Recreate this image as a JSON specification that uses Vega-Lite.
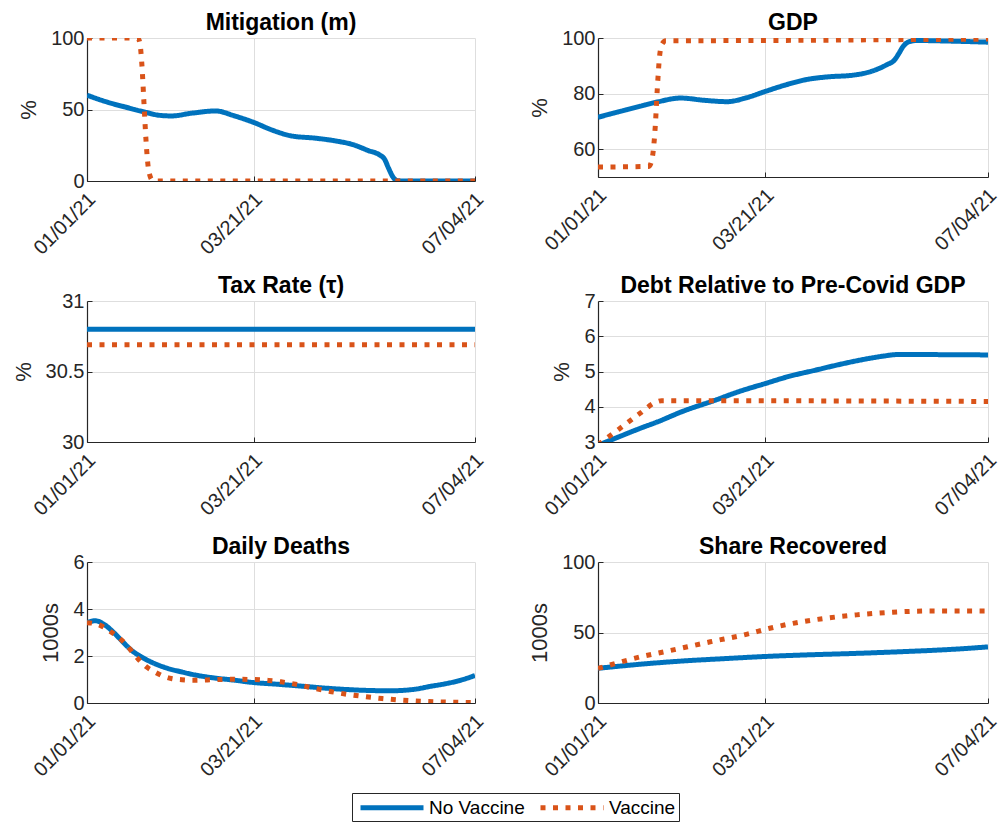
{
  "$schema": "https://vega.github.io/schema/vega-lite/v6.json",
  "padding": {"left": 12, "top": 12, "right": 5, "bottom": 2},
  "background": "white",
  "datasets": {
    "d": [
      {"p":"m","s":"No Vaccine","d":"2021-01-01","v":60},
      {"p":"m","s":"No Vaccine","d":"2021-01-11","v":55},
      {"p":"m","s":"No Vaccine","d":"2021-01-21","v":51},
      {"p":"m","s":"No Vaccine","d":"2021-01-29","v":48},
      {"p":"m","s":"No Vaccine","d":"2021-02-04","v":46},
      {"p":"m","s":"No Vaccine","d":"2021-02-10","v":45.5},
      {"p":"m","s":"No Vaccine","d":"2021-02-20","v":47.5},
      {"p":"m","s":"No Vaccine","d":"2021-03-03","v":49},
      {"p":"m","s":"No Vaccine","d":"2021-03-12","v":45.5},
      {"p":"m","s":"No Vaccine","d":"2021-03-21","v":41},
      {"p":"m","s":"No Vaccine","d":"2021-03-30","v":35.5},
      {"p":"m","s":"No Vaccine","d":"2021-04-08","v":31.5},
      {"p":"m","s":"No Vaccine","d":"2021-04-19","v":30},
      {"p":"m","s":"No Vaccine","d":"2021-04-29","v":28},
      {"p":"m","s":"No Vaccine","d":"2021-05-07","v":25.5},
      {"p":"m","s":"No Vaccine","d":"2021-05-14","v":21.5},
      {"p":"m","s":"No Vaccine","d":"2021-05-20","v":18},
      {"p":"m","s":"No Vaccine","d":"2021-05-22","v":15.5},
      {"p":"m","s":"No Vaccine","d":"2021-05-24","v":9},
      {"p":"m","s":"No Vaccine","d":"2021-05-26","v":3},
      {"p":"m","s":"No Vaccine","d":"2021-05-28","v":0.3},
      {"p":"m","s":"No Vaccine","d":"2021-05-31","v":0},
      {"p":"m","s":"No Vaccine","d":"2021-07-04","v":0},
      {"p":"m","s":"Vaccine","d":"2021-01-01","v":100},
      {"p":"m","s":"Vaccine","d":"2021-01-25","v":100},
      {"p":"m","s":"Vaccine","d":"2021-01-26","v":97},
      {"p":"m","s":"Vaccine","d":"2021-01-27","v":82},
      {"p":"m","s":"Vaccine","d":"2021-01-28","v":55},
      {"p":"m","s":"Vaccine","d":"2021-01-29","v":28},
      {"p":"m","s":"Vaccine","d":"2021-01-30","v":10},
      {"p":"m","s":"Vaccine","d":"2021-01-31","v":3},
      {"p":"m","s":"Vaccine","d":"2021-02-01","v":0.7},
      {"p":"m","s":"Vaccine","d":"2021-02-03","v":0},
      {"p":"m","s":"Vaccine","d":"2021-07-04","v":0},

      {"p":"g","s":"No Vaccine","d":"2021-01-01","v":71.5},
      {"p":"g","s":"No Vaccine","d":"2021-01-11","v":73.5},
      {"p":"g","s":"No Vaccine","d":"2021-01-21","v":75.5},
      {"p":"g","s":"No Vaccine","d":"2021-01-29","v":77},
      {"p":"g","s":"No Vaccine","d":"2021-02-09","v":78.4},
      {"p":"g","s":"No Vaccine","d":"2021-02-20","v":77.6},
      {"p":"g","s":"No Vaccine","d":"2021-03-03","v":77.1},
      {"p":"g","s":"No Vaccine","d":"2021-03-12","v":78.5},
      {"p":"g","s":"No Vaccine","d":"2021-03-21","v":80.8},
      {"p":"g","s":"No Vaccine","d":"2021-03-30","v":83},
      {"p":"g","s":"No Vaccine","d":"2021-04-09","v":85},
      {"p":"g","s":"No Vaccine","d":"2021-04-19","v":86},
      {"p":"g","s":"No Vaccine","d":"2021-05-01","v":86.6},
      {"p":"g","s":"No Vaccine","d":"2021-05-10","v":88},
      {"p":"g","s":"No Vaccine","d":"2021-05-17","v":90.3},
      {"p":"g","s":"No Vaccine","d":"2021-05-21","v":92.2},
      {"p":"g","s":"No Vaccine","d":"2021-05-23","v":94.5},
      {"p":"g","s":"No Vaccine","d":"2021-05-25","v":97},
      {"p":"g","s":"No Vaccine","d":"2021-05-27","v":98.4},
      {"p":"g","s":"No Vaccine","d":"2021-05-29","v":98.9},
      {"p":"g","s":"No Vaccine","d":"2021-05-31","v":99.1},
      {"p":"g","s":"No Vaccine","d":"2021-06-15","v":98.9},
      {"p":"g","s":"No Vaccine","d":"2021-07-04","v":98.5},
      {"p":"g","s":"Vaccine","d":"2021-01-01","v":53.6},
      {"p":"g","s":"Vaccine","d":"2021-01-25","v":53.8},
      {"p":"g","s":"Vaccine","d":"2021-01-26","v":55},
      {"p":"g","s":"Vaccine","d":"2021-01-27","v":59},
      {"p":"g","s":"Vaccine","d":"2021-01-28","v":68},
      {"p":"g","s":"Vaccine","d":"2021-01-29","v":82},
      {"p":"g","s":"Vaccine","d":"2021-01-30","v":93},
      {"p":"g","s":"Vaccine","d":"2021-01-31","v":97.5},
      {"p":"g","s":"Vaccine","d":"2021-02-02","v":99},
      {"p":"g","s":"Vaccine","d":"2021-03-21","v":99.1},
      {"p":"g","s":"Vaccine","d":"2021-05-21","v":99.4},
      {"p":"g","s":"Vaccine","d":"2021-07-04","v":99.6},

      {"p":"t","s":"No Vaccine","d":"2021-01-01","v":30.8},
      {"p":"t","s":"No Vaccine","d":"2021-07-04","v":30.8},
      {"p":"t","s":"Vaccine","d":"2021-01-01","v":30.69},
      {"p":"t","s":"Vaccine","d":"2021-07-04","v":30.69},

      {"p":"b","s":"No Vaccine","d":"2021-01-01","v":2.91},
      {"p":"b","s":"No Vaccine","d":"2021-01-11","v":3.15},
      {"p":"b","s":"No Vaccine","d":"2021-01-21","v":3.39},
      {"p":"b","s":"No Vaccine","d":"2021-01-29","v":3.57},
      {"p":"b","s":"No Vaccine","d":"2021-02-10","v":3.87},
      {"p":"b","s":"No Vaccine","d":"2021-02-25","v":4.18},
      {"p":"b","s":"No Vaccine","d":"2021-03-09","v":4.44},
      {"p":"b","s":"No Vaccine","d":"2021-03-21","v":4.66},
      {"p":"b","s":"No Vaccine","d":"2021-04-01","v":4.86},
      {"p":"b","s":"No Vaccine","d":"2021-04-13","v":5.03},
      {"p":"b","s":"No Vaccine","d":"2021-04-25","v":5.2},
      {"p":"b","s":"No Vaccine","d":"2021-05-07","v":5.35},
      {"p":"b","s":"No Vaccine","d":"2021-05-16","v":5.44},
      {"p":"b","s":"No Vaccine","d":"2021-05-22","v":5.48},
      {"p":"b","s":"No Vaccine","d":"2021-05-31","v":5.48},
      {"p":"b","s":"No Vaccine","d":"2021-07-04","v":5.47},
      {"p":"b","s":"Vaccine","d":"2021-01-01","v":2.92},
      {"p":"b","s":"Vaccine","d":"2021-01-11","v":3.37},
      {"p":"b","s":"Vaccine","d":"2021-01-21","v":3.82},
      {"p":"b","s":"Vaccine","d":"2021-01-28","v":4.12},
      {"p":"b","s":"Vaccine","d":"2021-01-31","v":4.17},
      {"p":"b","s":"Vaccine","d":"2021-03-02","v":4.17},
      {"p":"b","s":"Vaccine","d":"2021-07-04","v":4.15},

      {"p":"x","s":"No Vaccine","d":"2021-01-01","v":3.42},
      {"p":"x","s":"No Vaccine","d":"2021-01-05","v":3.5},
      {"p":"x","s":"No Vaccine","d":"2021-01-09","v":3.35},
      {"p":"x","s":"No Vaccine","d":"2021-01-14","v":2.97},
      {"p":"x","s":"No Vaccine","d":"2021-01-18","v":2.6},
      {"p":"x","s":"No Vaccine","d":"2021-01-22","v":2.25},
      {"p":"x","s":"No Vaccine","d":"2021-01-27","v":1.95},
      {"p":"x","s":"No Vaccine","d":"2021-02-02","v":1.68},
      {"p":"x","s":"No Vaccine","d":"2021-02-08","v":1.48},
      {"p":"x","s":"No Vaccine","d":"2021-02-15","v":1.32},
      {"p":"x","s":"No Vaccine","d":"2021-02-22","v":1.18},
      {"p":"x","s":"No Vaccine","d":"2021-03-02","v":1.07},
      {"p":"x","s":"No Vaccine","d":"2021-03-12","v":0.97},
      {"p":"x","s":"No Vaccine","d":"2021-03-21","v":0.87},
      {"p":"x","s":"No Vaccine","d":"2021-04-01","v":0.8},
      {"p":"x","s":"No Vaccine","d":"2021-04-11","v":0.73},
      {"p":"x","s":"No Vaccine","d":"2021-04-23","v":0.64},
      {"p":"x","s":"No Vaccine","d":"2021-05-05","v":0.57},
      {"p":"x","s":"No Vaccine","d":"2021-05-16","v":0.53},
      {"p":"x","s":"No Vaccine","d":"2021-05-25","v":0.52},
      {"p":"x","s":"No Vaccine","d":"2021-06-05","v":0.58},
      {"p":"x","s":"No Vaccine","d":"2021-06-13","v":0.71},
      {"p":"x","s":"No Vaccine","d":"2021-06-20","v":0.82},
      {"p":"x","s":"No Vaccine","d":"2021-06-26","v":0.94},
      {"p":"x","s":"No Vaccine","d":"2021-07-04","v":1.17},
      {"p":"x","s":"Vaccine","d":"2021-01-01","v":3.42},
      {"p":"x","s":"Vaccine","d":"2021-01-06","v":3.35},
      {"p":"x","s":"Vaccine","d":"2021-01-12","v":3.05},
      {"p":"x","s":"Vaccine","d":"2021-01-19","v":2.54},
      {"p":"x","s":"Vaccine","d":"2021-01-25","v":1.9},
      {"p":"x","s":"Vaccine","d":"2021-01-29","v":1.55},
      {"p":"x","s":"Vaccine","d":"2021-02-02","v":1.33},
      {"p":"x","s":"Vaccine","d":"2021-02-06","v":1.15},
      {"p":"x","s":"Vaccine","d":"2021-02-10","v":1.04},
      {"p":"x","s":"Vaccine","d":"2021-02-15","v":0.99},
      {"p":"x","s":"Vaccine","d":"2021-02-20","v":0.97},
      {"p":"x","s":"Vaccine","d":"2021-03-02","v":0.99},
      {"p":"x","s":"Vaccine","d":"2021-03-10","v":1.01},
      {"p":"x","s":"Vaccine","d":"2021-03-21","v":1.0},
      {"p":"x","s":"Vaccine","d":"2021-03-28","v":0.96},
      {"p":"x","s":"Vaccine","d":"2021-04-03","v":0.9},
      {"p":"x","s":"Vaccine","d":"2021-04-11","v":0.78},
      {"p":"x","s":"Vaccine","d":"2021-04-19","v":0.62},
      {"p":"x","s":"Vaccine","d":"2021-04-27","v":0.48},
      {"p":"x","s":"Vaccine","d":"2021-05-05","v":0.36},
      {"p":"x","s":"Vaccine","d":"2021-05-13","v":0.27},
      {"p":"x","s":"Vaccine","d":"2021-05-21","v":0.19},
      {"p":"x","s":"Vaccine","d":"2021-05-29","v":0.13},
      {"p":"x","s":"Vaccine","d":"2021-06-05","v":0.09},
      {"p":"x","s":"Vaccine","d":"2021-06-15","v":0.05},
      {"p":"x","s":"Vaccine","d":"2021-06-25","v":0.03},
      {"p":"x","s":"Vaccine","d":"2021-07-04","v":0.02},

      {"p":"r","s":"No Vaccine","d":"2021-01-01","v":24.6},
      {"p":"r","s":"No Vaccine","d":"2021-01-21","v":27.5},
      {"p":"r","s":"No Vaccine","d":"2021-02-10","v":29.8},
      {"p":"r","s":"No Vaccine","d":"2021-03-02","v":31.5},
      {"p":"r","s":"No Vaccine","d":"2021-03-21","v":33},
      {"p":"r","s":"No Vaccine","d":"2021-04-11","v":34.2},
      {"p":"r","s":"No Vaccine","d":"2021-05-01","v":35.1},
      {"p":"r","s":"No Vaccine","d":"2021-05-21","v":36.2},
      {"p":"r","s":"No Vaccine","d":"2021-06-10","v":37.5},
      {"p":"r","s":"No Vaccine","d":"2021-06-25","v":38.8},
      {"p":"r","s":"No Vaccine","d":"2021-07-04","v":39.8},
      {"p":"r","s":"Vaccine","d":"2021-01-01","v":24.5},
      {"p":"r","s":"Vaccine","d":"2021-01-11","v":28.8},
      {"p":"r","s":"Vaccine","d":"2021-01-19","v":32},
      {"p":"r","s":"Vaccine","d":"2021-02-05","v":37.5},
      {"p":"r","s":"Vaccine","d":"2021-02-23","v":43.4},
      {"p":"r","s":"Vaccine","d":"2021-03-12","v":48.7},
      {"p":"r","s":"Vaccine","d":"2021-03-23","v":53},
      {"p":"r","s":"Vaccine","d":"2021-04-03","v":56.5},
      {"p":"r","s":"Vaccine","d":"2021-04-16","v":59.6},
      {"p":"r","s":"Vaccine","d":"2021-05-03","v":62.5},
      {"p":"r","s":"Vaccine","d":"2021-05-20","v":64.4},
      {"p":"r","s":"Vaccine","d":"2021-06-08","v":65.3},
      {"p":"r","s":"Vaccine","d":"2021-07-04","v":65.3}
    ]
  },
  "data": {"name": "d"},
  "columns": 2,
  "spacing": {"row": 16, "column": 40},
  "concat": [
    {
      "title": "Mitigation (m)",
      "width": 388, "height": 143,
      "transform": [{"filter": "datum.p === 'm'"}],
      "mark": {"type": "line", "strokeWidth": 5, "interpolate": "monotone", "clip": true, "strokeCap": "butt"},
      "encoding": {
        "x": {"field": "d", "type": "temporal", "scale": {"type": "utc", "domain": [{"year": 2021, "month": 1, "date": 1, "utc": true}, {"year": 2021, "month": 7, "date": 4, "utc": true}]}, "axis": {"values": [{"year": 2021, "month": 1, "date": 1, "utc": true}, {"year": 2021, "month": 3, "date": 21, "utc": true}, {"year": 2021, "month": 7, "date": 4, "utc": true}], "format": "%m/%d/%y", "title": null}},
        "y": {"field": "v", "type": "quantitative", "scale": {"domain": [0, 100], "nice": false, "zero": false}, "axis": {"values": [0, 50, 100], "title": "%"}},
        "color": {"field": "s", "type": "nominal", "scale": {"domain": ["No Vaccine", "Vaccine"], "range": ["#0072BD", "#D95319"]}, "legend": {"title": null}},
        "strokeDash": {"field": "s", "type": "nominal", "scale": {"domain": ["No Vaccine", "Vaccine"], "range": [[1, 0], [5, 7.5]]}, "legend": {"title": null}}
      }
    },
    {
      "title": "GDP",
      "width": 390, "height": 139,
      "transform": [{"filter": "datum.p === 'g'"}],
      "mark": {"type": "line", "strokeWidth": 5, "interpolate": "monotone", "clip": true, "strokeCap": "butt"},
      "encoding": {
        "x": {"field": "d", "type": "temporal", "scale": {"type": "utc", "domain": [{"year": 2021, "month": 1, "date": 1, "utc": true}, {"year": 2021, "month": 7, "date": 4, "utc": true}]}, "axis": {"values": [{"year": 2021, "month": 1, "date": 1, "utc": true}, {"year": 2021, "month": 3, "date": 21, "utc": true}, {"year": 2021, "month": 7, "date": 4, "utc": true}], "format": "%m/%d/%y", "title": null}},
        "y": {"field": "v", "type": "quantitative", "scale": {"domain": [50, 100], "nice": false, "zero": false}, "axis": {"values": [60, 80, 100], "title": "%"}},
        "color": {"field": "s", "type": "nominal", "scale": {"domain": ["No Vaccine", "Vaccine"], "range": ["#0072BD", "#D95319"]}, "legend": {"title": null}},
        "strokeDash": {"field": "s", "type": "nominal", "scale": {"domain": ["No Vaccine", "Vaccine"], "range": [[1, 0], [5, 7.5]]}, "legend": {"title": null}}
      }
    },
    {
      "title": "Tax Rate (τ)",
      "width": 388, "height": 141,
      "transform": [{"filter": "datum.p === 't'"}],
      "mark": {"type": "line", "strokeWidth": 5, "interpolate": "monotone", "clip": true, "strokeCap": "butt"},
      "encoding": {
        "x": {"field": "d", "type": "temporal", "scale": {"type": "utc", "domain": [{"year": 2021, "month": 1, "date": 1, "utc": true}, {"year": 2021, "month": 7, "date": 4, "utc": true}]}, "axis": {"values": [{"year": 2021, "month": 1, "date": 1, "utc": true}, {"year": 2021, "month": 3, "date": 21, "utc": true}, {"year": 2021, "month": 7, "date": 4, "utc": true}], "format": "%m/%d/%y", "title": null}},
        "y": {"field": "v", "type": "quantitative", "scale": {"domain": [30, 31], "nice": false, "zero": false}, "axis": {"values": [30, 30.5, 31], "labelExpr": "format(datum.value, '~g')", "title": "%"}},
        "color": {"field": "s", "type": "nominal", "scale": {"domain": ["No Vaccine", "Vaccine"], "range": ["#0072BD", "#D95319"]}, "legend": {"title": null}},
        "strokeDash": {"field": "s", "type": "nominal", "scale": {"domain": ["No Vaccine", "Vaccine"], "range": [[1, 0], [5, 7.5]]}, "legend": {"title": null}}
      }
    },
    {
      "title": "Debt Relative to Pre-Covid GDP",
      "width": 390, "height": 141,
      "transform": [{"filter": "datum.p === 'b'"}],
      "mark": {"type": "line", "strokeWidth": 5, "interpolate": "monotone", "clip": true, "strokeCap": "butt"},
      "encoding": {
        "x": {"field": "d", "type": "temporal", "scale": {"type": "utc", "domain": [{"year": 2021, "month": 1, "date": 1, "utc": true}, {"year": 2021, "month": 7, "date": 4, "utc": true}]}, "axis": {"values": [{"year": 2021, "month": 1, "date": 1, "utc": true}, {"year": 2021, "month": 3, "date": 21, "utc": true}, {"year": 2021, "month": 7, "date": 4, "utc": true}], "format": "%m/%d/%y", "title": null}},
        "y": {"field": "v", "type": "quantitative", "scale": {"domain": [3, 7], "nice": false, "zero": false}, "axis": {"values": [3, 4, 5, 6, 7], "title": "%"}},
        "color": {"field": "s", "type": "nominal", "scale": {"domain": ["No Vaccine", "Vaccine"], "range": ["#0072BD", "#D95319"]}, "legend": {"title": null}},
        "strokeDash": {"field": "s", "type": "nominal", "scale": {"domain": ["No Vaccine", "Vaccine"], "range": [[1, 0], [5, 7.5]]}, "legend": {"title": null}}
      }
    },
    {
      "title": "Daily Deaths",
      "width": 388, "height": 141,
      "transform": [{"filter": "datum.p === 'x'"}],
      "mark": {"type": "line", "strokeWidth": 5, "interpolate": "monotone", "clip": true, "strokeCap": "butt"},
      "encoding": {
        "x": {"field": "d", "type": "temporal", "scale": {"type": "utc", "domain": [{"year": 2021, "month": 1, "date": 1, "utc": true}, {"year": 2021, "month": 7, "date": 4, "utc": true}]}, "axis": {"values": [{"year": 2021, "month": 1, "date": 1, "utc": true}, {"year": 2021, "month": 3, "date": 21, "utc": true}, {"year": 2021, "month": 7, "date": 4, "utc": true}], "format": "%m/%d/%y", "title": null}},
        "y": {"field": "v", "type": "quantitative", "scale": {"domain": [0, 6], "nice": false, "zero": false}, "axis": {"values": [0, 2, 4, 6], "title": "1000s"}},
        "color": {"field": "s", "type": "nominal", "scale": {"domain": ["No Vaccine", "Vaccine"], "range": ["#0072BD", "#D95319"]}, "legend": {"title": null}},
        "strokeDash": {"field": "s", "type": "nominal", "scale": {"domain": ["No Vaccine", "Vaccine"], "range": [[1, 0], [5, 7.5]]}, "legend": {"title": null}}
      }
    },
    {
      "title": "Share Recovered",
      "width": 390, "height": 141,
      "transform": [{"filter": "datum.p === 'r'"}],
      "mark": {"type": "line", "strokeWidth": 5, "interpolate": "monotone", "clip": true, "strokeCap": "butt"},
      "encoding": {
        "x": {"field": "d", "type": "temporal", "scale": {"type": "utc", "domain": [{"year": 2021, "month": 1, "date": 1, "utc": true}, {"year": 2021, "month": 7, "date": 4, "utc": true}]}, "axis": {"values": [{"year": 2021, "month": 1, "date": 1, "utc": true}, {"year": 2021, "month": 3, "date": 21, "utc": true}, {"year": 2021, "month": 7, "date": 4, "utc": true}], "format": "%m/%d/%y", "title": null}},
        "y": {"field": "v", "type": "quantitative", "scale": {"domain": [0, 100], "nice": false, "zero": false}, "axis": {"values": [0, 50, 100], "title": "1000s"}},
        "color": {"field": "s", "type": "nominal", "scale": {"domain": ["No Vaccine", "Vaccine"], "range": ["#0072BD", "#D95319"]}, "legend": {"title": null}},
        "strokeDash": {"field": "s", "type": "nominal", "scale": {"domain": ["No Vaccine", "Vaccine"], "range": [[1, 0], [5, 7.5]]}, "legend": {"title": null}}
      }
    }
  ],
  "config": {
    "font": "Liberation Sans",
    "view": {"stroke": null},
    "title": {"fontSize": 23, "fontWeight": "bold", "color": "#000000", "offset": -7, "anchor": "middle", "font": "Liberation Sans"},
    "axis": {
      "labelFont": "Liberation Sans", "labelFontSize": 20, "labelColor": "#262626",
      "titleFont": "Liberation Sans", "titleFontSize": 22, "titleFontWeight": "normal", "titleColor": "#262626",
      "domainColor": "#262626", "domainWidth": 1.2, "tickColor": "#262626", "tickSize": -5, "tickWidth": 1,
      "grid": true, "gridColor": "#dedede", "gridWidth": 1, "labelPadding": 8, "titlePadding": 10
    },
    "axisX": {"labelAngle": -45, "labelAlign": "right", "labelBaseline": "middle", "labelPadding": 20, "labelOffset": 5, "labelFlush": false, "labelOverlap": false},
    "axisY": {"labelFlush": false, "labelOverlap": false},
    "legend": {
      "orient": "none", "legendX": 265, "legendY": 755, "direction": "horizontal",
      "labelFont": "Liberation Sans", "labelFontSize": 19, "labelColor": "#000000",
      "symbolType": "M-1,0H6", "symbolSize": 324, "symbolStrokeWidth": 5,
      "labelOffset": 48, "columnPadding": 5, "padding": 3,
      "strokeColor": "#262626", "fillColor": "white", "symbolOffset": 3
    }
  }
}
